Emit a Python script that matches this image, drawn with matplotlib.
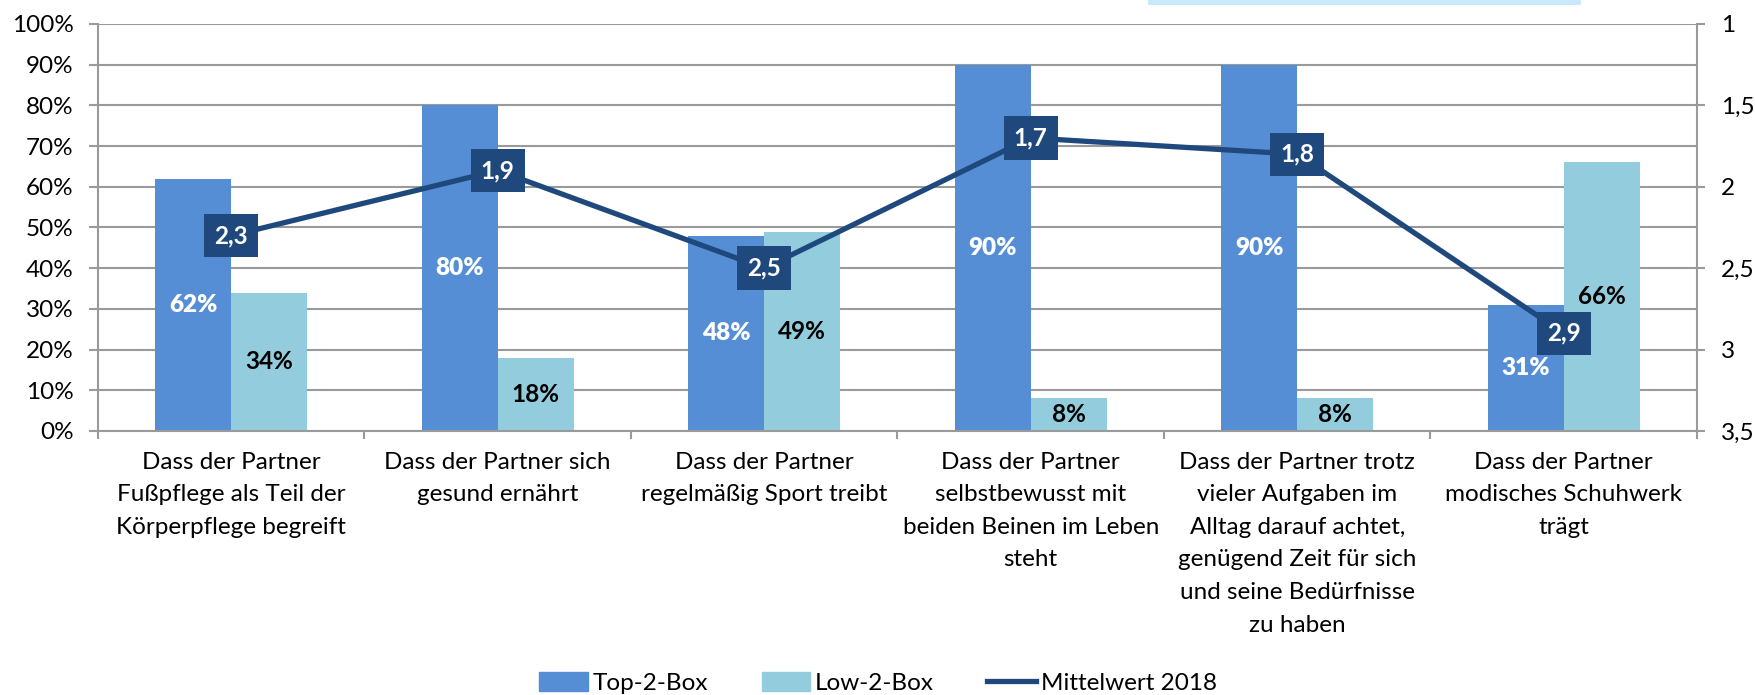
import matplotlib.pyplot as plt
import matplotlib.patches as mpatches
from matplotlib.lines import Line2D
import numpy as np

categories = [
    "Dass der Partner\nFußpflege als Teil der\nKörperpflege begreift",
    "Dass der Partner sich\ngesund ernährt",
    "Dass der Partner\nregelmäßig Sport treibt",
    "Dass der Partner\nselbstbewusst mit\nbeiden Beinen im Leben\nsteht",
    "Dass der Partner trotz\nvieler Aufgaben im\nAlltag darauf achtet,\ngenügend Zeit für sich\nund seine Bedürfnisse\nzu haben",
    "Dass der Partner\nmodisches Schuhwerk\nträgt",
]
top2 = [62, 80, 48, 90, 90, 31]
low2 = [34, 18, 49, 8, 8, 66]
mean2018 = [2.3, 1.9, 2.5, 1.7, 1.8, 2.9]

c_top = "#558ED5"
c_low = "#93CDDD"
c_line = "#1F497D"
grid_c = "#9A9A9A"

plt.rcParams['font.family'] = ['Lato', 'DejaVu Sans']
fs = 17.5

fig = plt.figure(figsize=(17.56, 6.95), dpi=100)
ax = fig.add_axes([0.0558, 0.3799, 0.9106, 0.5856])

x = np.arange(len(categories))
w = 0.285
ax.bar(x - w / 2, top2, w, color=c_top, zorder=2)
ax.bar(x + w / 2, low2, w, color=c_low, zorder=2)

for i in range(len(x)):
    ax.text(x[i] - w / 2, top2[i] / 2, f"{top2[i]}%", ha='center', va='center',
            color='white', fontsize=fs, fontweight='heavy', zorder=3)
    ax.text(x[i] + w / 2, low2[i] / 2, f"{low2[i]}%", ha='center', va='center',
            color='black', fontsize=fs, fontweight='bold', zorder=3)

ax.set_xlim(-0.5, len(x) - 0.5)
ax.set_ylim(0, 100)
ax.set_yticks(range(0, 101, 10))
ax.set_yticklabels([f"{v}%" for v in range(0, 101, 10)], fontsize=fs)
ax.yaxis.grid(True, color=grid_c, linewidth=1.5, zorder=0)
ax.set_axisbelow(True)
ax.set_xticks(x)
ax.set_xticklabels(categories, fontsize=fs)
for lab in ax.get_xticklabels():
    lab.set_linespacing(1.68)
ax.set_xticks(np.arange(-0.5, len(x), 1), minor=True)
ax.tick_params(axis='x', which='major', length=0, pad=15)
ax.tick_params(axis='x', which='minor', length=6, width=1.5, color=grid_c, direction='out')
ax.tick_params(axis='y', length=6.5, width=1.5, color=grid_c, pad=11)
for s in ['top', 'right']:
    ax.spines[s].set_visible(False)
for s in ['left', 'bottom']:
    ax.spines[s].set_color(grid_c)
    ax.spines[s].set_linewidth(1.5)

ax2 = ax.twinx()
ax2.plot(x, mean2018, color=c_line, linewidth=3.8, zorder=4, solid_capstyle='round')
for i in range(len(x)):
    ax2.text(x[i], mean2018[i], f"{mean2018[i]}".replace('.', ','), ha='center', va='center',
             color='white', fontsize=fs, fontweight='bold', zorder=5,
             bbox=dict(boxstyle='square,pad=0.42', fc=c_line, ec='none'))
ax2.set_ylim(3.5, 1)
ticks2 = np.arange(1, 3.51, 0.5)
ax2.set_yticks(ticks2)
ax2.set_yticklabels([f"{t:g}".replace('.', ',') for t in ticks2], fontsize=fs)
ax2.tick_params(axis='y', length=6, width=1.5, color=grid_c, pad=11)
for s in ['top', 'left', 'bottom']:
    ax2.spines[s].set_visible(False)
ax2.spines['right'].set_color(grid_c)
ax2.spines['right'].set_linewidth(1.5)

# cut-off text box at the top edge
fig.patches.append(mpatches.Rectangle((1148 / 1756, 1 - 5 / 695), 433 / 1756, 5 / 695,
                                      transform=fig.transFigure, fc="#C9E8FA", ec='none'))

handles = [mpatches.Patch(color=c_top, label="Top-2-Box"),
           mpatches.Patch(color=c_low, label="Low-2-Box"),
           Line2D([0], [0], color=c_line, linewidth=3.8, label="Mittelwert 2018")]
fig.legend(handles=handles, loc='lower center', bbox_to_anchor=(0.5, -0.03), ncol=3,
           frameon=False, fontsize=fs, handlelength=2.0, handleheight=0.8,
           handletextpad=0.2, columnspacing=2.2)

fig.savefig("out.png", dpi=100)
